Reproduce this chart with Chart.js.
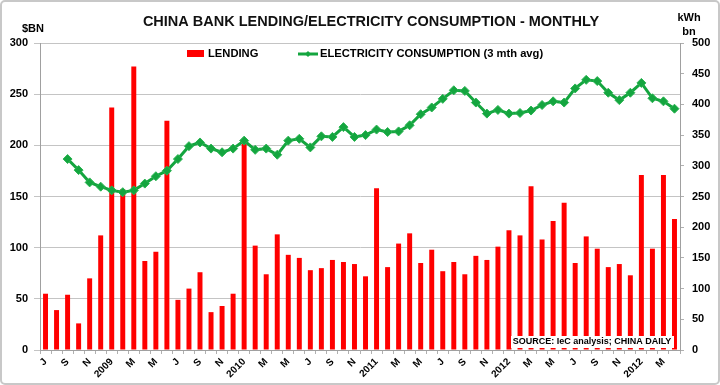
<!DOCTYPE html>
<html>
<head>
<meta charset="utf-8">
<script src="https://cdn.jsdelivr.net/npm/chart.js@4.4.0/dist/chart.umd.min.js"></script>
<style>
  html, body { margin: 0; padding: 0; background: #fff; }
  #wrap { width: 720px; height: 385px; }
</style>
</head>
<body>
<div id="wrap"><canvas id="myChart" width="720" height="385"></canvas></div>
<script>
// month labels Jul 2008 .. Apr 2013 (only every second one is printed)
let tickLabels = [
  'J', '', 'S', '', 'N', '',
  '2009', '', 'M', '', 'M', '', 'J', '', 'S', '', 'N', '',
  '2010', '', 'M', '', 'M', '', 'J', '', 'S', '', 'N', '',
  '2011', '', 'M', '', 'M', '', 'J', '', 'S', '', 'N', '',
  '2012', '', 'M', '', 'M', '', 'J', '', 'S', '', 'N', '',
  '2012', '', 'M', ''
];
// bank lending, $bn
let lending = [
  55, 39, 54, 26, 70, 112,
  237, 157, 277, 87, 96, 224, 49, 60, 76, 37, 43, 55,
  202, 102, 74, 113, 93, 90, 78, 80, 88, 86, 84, 72,
  158, 81, 104, 114, 85, 98, 77, 86, 74, 92, 88, 101,
  117, 112, 160, 108, 126, 144, 85, 111, 99, 81, 84, 73,
  171, 99, 171, 128
];
// electricity consumption, 3 month avg, kWh bn
let electricity = [
  null, null, 311, 293, 273, 266,
  260, 257, 260, 271, 283, 292, 311, 332, 338, 328, 322, 328,
  341, 326, 328, 318, 341, 344, 330, 348, 347, 363, 347, 350,
  359, 355, 356, 366, 384, 395, 409, 423, 422, 403, 385, 391,
  385, 386, 390, 399, 405, 403, 426, 440, 438, 419, 407, 419,
  435, 410, 405, 393
];

const RED = '#ff0000';
const GREEN = '#14a53f';
const FONT = "'Liberation Sans', Arial, sans-serif";

// title, axis units, legend, source box, frame
const extras = {
  id: 'extras',
  beforeDraw(chart) {
    const c = chart.ctx;
    c.save();
    c.fillStyle = '#fff';
    c.fillRect(0, 0, chart.width, chart.height);
    c.restore();
  },
  afterDraw(chart) {
    const c = chart.ctx;
    c.save();
    c.fillStyle = '#111';
    c.textBaseline = 'middle';
    c.textAlign = 'center';
    c.font = 'bold 14.5px ' + FONT;
    c.fillText('CHINA BANK LENDING/ELECTRICITY CONSUMPTION - MONTHLY', 371, 22);

    c.fillStyle = '#000';
    c.font = 'bold 11px ' + FONT;
    c.textAlign = 'left';
    c.fillText('$BN', 22, 29);
    c.textAlign = 'center';
    c.fillText('kWh', 689, 18);
    c.fillText('bn', 689, 32);

    // legend
    c.font = 'bold 11.2px ' + FONT;
    c.textAlign = 'left';
    c.fillStyle = RED;
    c.fillRect(187, 50, 17, 7);
    c.fillStyle = '#000';
    c.fillText('LENDING', 208, 54);
    c.strokeStyle = GREEN;
    c.lineWidth = 3;
    c.beginPath();
    c.moveTo(298, 54);
    c.lineTo(318, 54);
    c.stroke();
    c.fillStyle = GREEN;
    c.beginPath();
    c.moveTo(308, 51); c.lineTo(311, 54); c.lineTo(308, 57); c.lineTo(305, 54);
    c.closePath();
    c.fill();
    c.fillStyle = '#000';
    c.fillText('ELECTRICITY CONSUMPTION (3 mth avg)', 320, 54);

    // source box
    c.fillStyle = '#fff';
    c.fillRect(511, 336, 163, 12);
    c.fillStyle = '#000';
    c.font = 'bold 9px ' + FONT;
    c.textAlign = 'center';
    c.fillText('SOURCE: IeC analysis; CHINA DAILY', 592, 342);

    // frame
    c.strokeStyle = '#c8c8c8';
    c.lineWidth = 2;
    c.beginPath();
    c.roundRect(1, 1, chart.width - 2, chart.height - 2, 4);
    c.stroke();
    c.restore();
  }
};

let ctx = document.getElementById('myChart').getContext('2d');
let myChart = new Chart(ctx, {
  data: {
    labels: tickLabels,
    datasets: [
      {
        type: 'line',
        label: 'ELECTRICITY CONSUMPTION (3 mth avg)',
        data: electricity,
        yAxisID: 'y2',
        borderColor: GREEN,
        backgroundColor: GREEN,
        borderWidth: 3,
        pointStyle: 'rectRot',
        pointRadius: 4.5,
        pointBorderWidth: 1,
        pointBorderColor: '#2ab552',
        tension: 0,
        order: 0
      },
      {
        type: 'bar',
        label: 'LENDING',
        data: lending,
        yAxisID: 'y',
        backgroundColor: RED,
        barPercentage: 0.45,
        categoryPercentage: 1,
        order: 1
      }
    ]
  },
  options: {
    responsive: false,
    animation: false,
    layout: { padding: { left: 0, right: 0, top: 43, bottom: 0 } },
    plugins: {
      legend: { display: false },
      tooltip: { enabled: false }
    },
    scales: {
      x: {
        offset: true,
        grid: { offset: true, drawOnChartArea: false, tickLength: 4, color: '#b0b0b0' },
        border: { color: '#a0a0a0' },
        ticks: {
          autoSkip: false,
          minRotation: 45,
          maxRotation: 45,
          padding: 2,
          color: '#000',
          font: { family: FONT, size: 10, weight: 'bold' }
        },
        afterFit(scale) { scale.height = 35; }
      },
      y: {
        position: 'left',
        min: 0,
        max: 300,
        ticks: {
          stepSize: 50,
          padding: 6,
          color: '#000',
          font: { family: FONT, size: 11, weight: 'bold' }
        },
        grid: { color: '#c4c4c4', tickLength: 6 },
        border: { color: '#a0a0a0' },
        afterFit(scale) { scale.width = 40; }
      },
      y2: {
        position: 'right',
        min: 0,
        max: 500,
        ticks: {
          stepSize: 50,
          padding: 8,
          color: '#000',
          font: { family: FONT, size: 11, weight: 'bold' }
        },
        grid: { drawOnChartArea: false, color: '#b0b0b0', tickLength: 4 },
        border: { color: '#a0a0a0' },
        afterFit(scale) { scale.width = 40; }
      }
    }
  },
  plugins: [extras]
});
</script>
</body>
</html>
